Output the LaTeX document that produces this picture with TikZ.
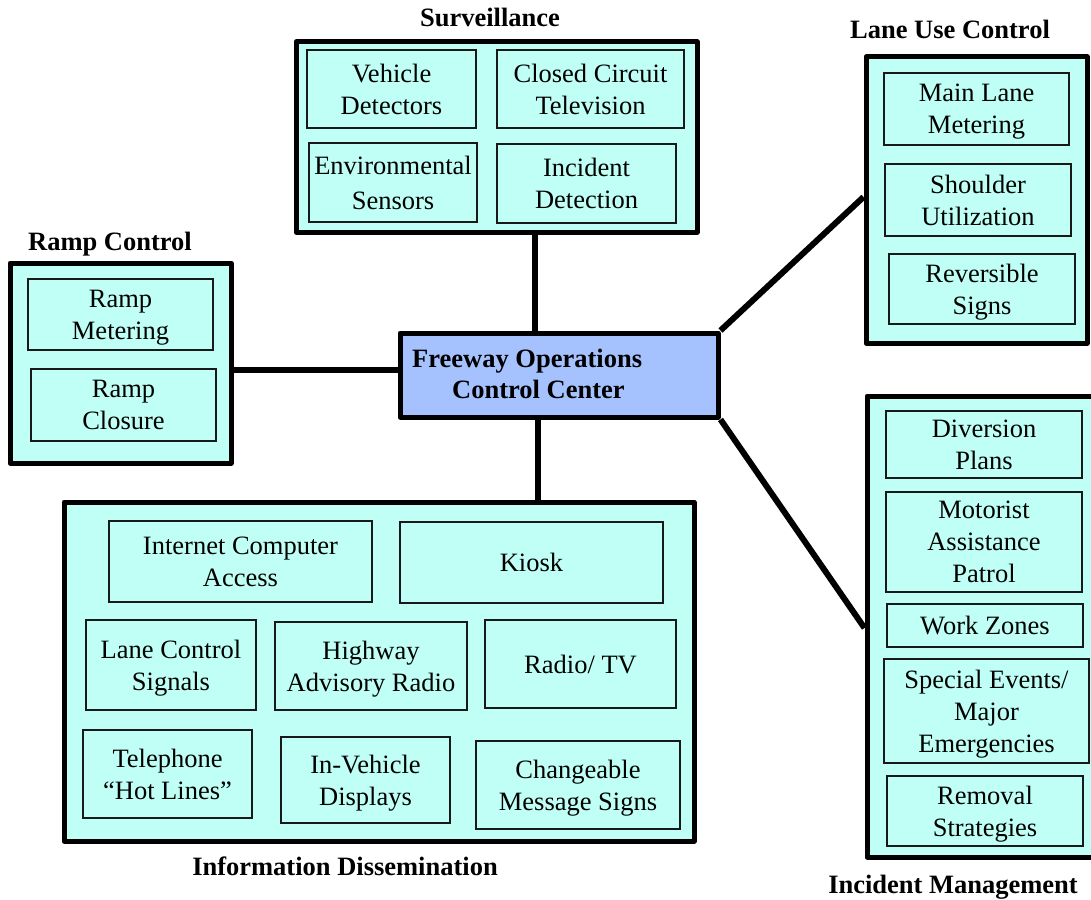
\documentclass[tikz,border=0pt]{standalone}
\usepackage{fontspec}
\setmainfont{Liberation Serif}
\definecolor{aqua}{RGB}{191,255,245}
\definecolor{peri}{RGB}{165,194,255}
\newcommand\nodp[1]{\raisebox{0pt}[\height][0pt]{#1}}
\tikzset{
  outerbox/.style={draw=black, line width=5pt, fill=aqua, line join=round, inner sep=0pt},
  inbox/.style={draw=black!90, line width=1.3pt, fill=aqua, inner sep=0pt, align=center,
     font=\fontsize{26.5}{32}\selectfont},
  centerbox/.style={draw=black, line width=5pt, fill=peri, line join=round, inner sep=0pt},
  centertext/.style={inner sep=0pt, align=left, anchor=west, font=\fontsize{26.5}{31}\selectfont\bfseries},
  grouptitle/.style={inner sep=0pt, anchor=base, font=\fontsize{26.5}{32}\selectfont\bfseries},
  conn/.style={draw=black, line width=6pt},
}
\begin{document}
\begin{tikzpicture}[x=1pt,y=-1pt]
\useasboundingbox (0,0) rectangle (1091,899);

% ---------- outer group boxes ----------
\node[outerbox, minimum width=401pt, minimum height=190pt] (surv) at (496.5,137) {};
\node[outerbox, minimum width=221pt, minimum height=286pt] (lane) at (976.5,200) {};
\node[outerbox, minimum width=221pt, minimum height=200pt] (ramp) at (120.5,363) {};
\node[outerbox, minimum width=230pt, minimum height=461pt] (incm) at (982,626.5) {};
\node[outerbox, minimum width=630pt, minimum height=339pt] (info) at (379,671.5) {};
\node[centerbox, minimum width=318pt, minimum height=84pt] (foc) at (559,375) {};

% ---------- connectors ----------
\coordinate (sx) at (535,0);
\coordinate (ix) at (538,0);
\coordinate (ry) at (0,370);
\coordinate (ly) at (0,197);
\coordinate (my) at (0,628);
\draw[conn] (surv.south -| sx) -- (foc.north -| sx);
\draw[conn] (foc.south -| ix) -- (info.north -| ix);
\draw[conn] (ramp.east |- ry) -- (foc.west |- ry);
\draw[conn] (foc.north east) -- (lane.west |- ly);
\draw[conn] (foc.south east) -- (incm.west |- my);

% ---------- center text ----------
\node[centertext] (foct) at (412,374) {Freeway Operations\\\hspace*{40pt}Control Center};

% ---------- titles ----------
\node[grouptitle] (survt) at (490,27) {Surveillance};
\node[grouptitle] (lanet) at (950,39) {Lane Use Control};
\node[grouptitle] (rampt) at (110,250) {Ramp Control};
\node[grouptitle] (infot) at (345,875) {Information Dissemination};
\node[grouptitle] (incmt) at (953,893) {Incident Management};

% ---------- surveillance ----------
\node[inbox, minimum width=169pt, minimum height=78pt] (vd) at (391.5,89) {Vehicle\\Detectors};
\node[inbox, minimum width=187pt, minimum height=78pt] (cctv) at (590.5,89) {Closed Circuit\\Television};
\node[inbox, minimum width=168pt, minimum height=79pt] (env) at (393,182.5) {Environmental\\[3pt]Sensors};
\node[inbox, minimum width=179pt, minimum height=79pt] (incd) at (586.5,183.5) {Incident\\Detection};

% ---------- lane use control ----------
\node[inbox, minimum width=185pt, minimum height=72pt] (mlm) at (976.5,109) {Main Lane\\\nodp{Metering}};
\node[inbox, minimum width=186pt, minimum height=72pt] (su) at (978,200) {Shoulder\\Utilization};
\node[inbox, minimum width=186pt, minimum height=70pt] (rs) at (982,289) {Reversible\\\nodp{Signs}};

% ---------- ramp control ----------
\node[inbox, minimum width=185pt, minimum height=71pt] (rm) at (120.5,314.5) {Ramp\\\nodp{Metering}};
\node[inbox, minimum width=185pt, minimum height=72pt] (rc) at (123.5,405) {Ramp\\Closure};

% ---------- incident management ----------
\node[inbox, minimum width=196pt, minimum height=67pt] (dp) at (984,444.5) {Diversion\\Plans};
\node[inbox, minimum width=196pt, minimum height=100pt] (map) at (984,542) {Motorist\\Assistance\\Patrol};
\node[inbox, minimum width=196pt, minimum height=43pt] (wz) at (985,625.5) {Work Zones};
\node[inbox, minimum width=205pt, minimum height=104pt] (se) at (986.5,711) {Special Events/\\Major\\\nodp{Emergencies}};
\node[inbox, minimum width=196pt, minimum height=70pt] (rms) at (985,811) {Removal\\\nodp{Strategies}};

% ---------- information dissemination ----------
\node[inbox, minimum width=263pt, minimum height=81pt] (ica) at (240.5,561.5) {Internet Computer\\Access};
\node[inbox, minimum width=263pt, minimum height=81pt] (kiosk) at (531.5,562.5) {Kiosk};
\node[inbox, minimum width=170pt, minimum height=90pt] (lcs) at (171,665) {Lane Control\\\nodp{Signals}};
\node[inbox, minimum width=192pt, minimum height=88pt] (har) at (371,666) {Highway\\\nodp{Advisory Radio}};
\node[inbox, minimum width=191pt, minimum height=88pt] (rtv) at (580.5,664) {Radio/ TV};
\node[inbox, minimum width=169pt, minimum height=88pt] (thl) at (167.5,774) {Telephone\\“Hot Lines”};
\node[inbox, minimum width=169pt, minimum height=86pt] (ivd) at (365.5,780) {In-Vehicle\\\nodp{Displays}};
\node[inbox, minimum width=204pt, minimum height=88pt] (cms) at (578,785) {Changeable\\\nodp{Message Signs}};
\end{tikzpicture}
\end{document}
